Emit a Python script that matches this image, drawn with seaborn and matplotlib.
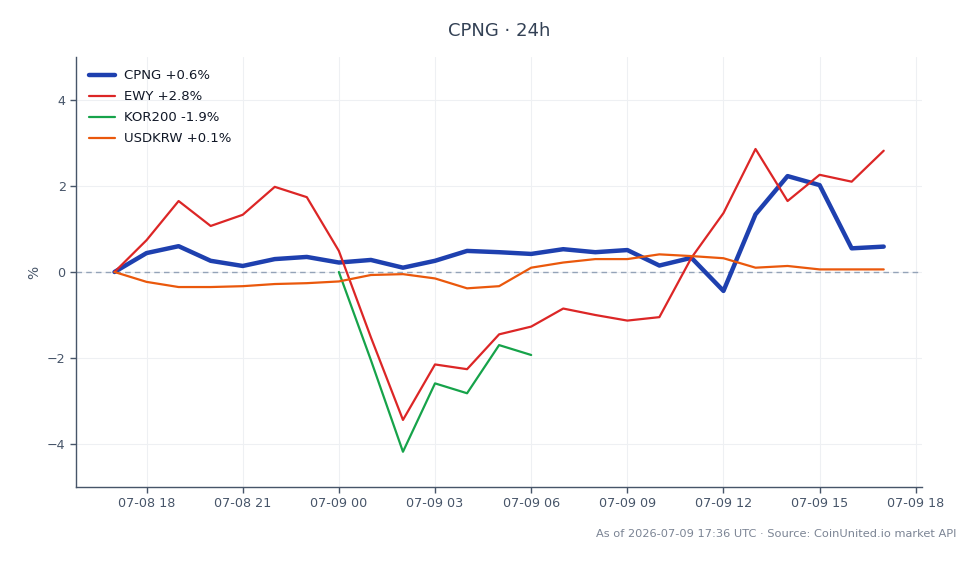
import numpy as np
import pandas as pd
import matplotlib
matplotlib.use("Agg")
import matplotlib.pyplot as plt
import matplotlib.dates as mdates
import seaborn as sns

times = pd.date_range("2026-07-08 17:00", "2026-07-09 17:00", freq="h")

cpng = [0.0, 0.44, 0.60, 0.26, 0.14, 0.30, 0.35, 0.22, 0.28, 0.10, 0.26, 0.49, 0.46,
        0.42, 0.53, 0.46, 0.51, 0.15, 0.33, -0.44, 1.34, 2.23, 2.02, 0.55, 0.59]
ewy = [0.0, 0.74, 1.65, 1.07, 1.33, 1.98, 1.74, 0.49, -1.52, -3.44, -2.15, -2.26, -1.45,
       -1.27, -0.85, -1.00, -1.13, -1.05, 0.33, 1.37, 2.86, 1.65, 2.26, 2.10, 2.82]
kor200 = [np.nan] * 7 + [0.0, -2.05, -4.18, -2.59, -2.82, -1.70, -1.93] + [np.nan] * 11
usdkrw = [0.0, -0.23, -0.35, -0.35, -0.33, -0.28, -0.26, -0.22, -0.07, -0.05, -0.15, -0.38, -0.33,
          0.10, 0.22, 0.30, 0.30, 0.41, 0.37, 0.32, 0.10, 0.14, 0.06, 0.06, 0.06]

labels = ["CPNG +0.6%", "EWY +2.8%", "KOR200 -1.9%", "USDKRW +0.1%"]
colors = ["#1e40af", "#dc2626", "#16a34a", "#ea580c"]
widths = [3.2, 1.6, 1.6, 1.6]
series = [cpng, ewy, kor200, usdkrw]

sns.set_theme(style="whitegrid")
plt.rcParams["font.family"] = ["DejaVu Sans"]

fig = plt.figure(figsize=(9.8, 5.64), dpi=100)
ax = fig.add_axes([0.0776, 0.1365, 0.8634, 0.7625])

for vals, lab, col, lw in zip(series, labels, colors, widths):
    df = pd.DataFrame({"time": times, "value": vals}).dropna()
    sns.lineplot(data=df, x="time", y="value", ax=ax, color=col, linewidth=lw, label=lab, zorder=3)

ax.axhline(0, color="#94a3b8", linestyle=(0, (4, 3)), linewidth=1.0, zorder=2)

ax.set_ylim(-5, 5)
ax.set_yticks([-4, -2, 0, 2, 4])
ax.xaxis.set_major_locator(mdates.HourLocator(byhour=[0, 3, 6, 9, 12, 15, 18, 21]))
ax.xaxis.set_major_formatter(mdates.DateFormatter("%m-%d %H"))
ax.margins(x=0.05)

ax.set_xlabel("")
ax.set_ylabel("%", color="#475569", fontsize=10)
ax.set_title("CPNG · 24h", color="#334155", fontsize=13, pad=15)

ax.set_facecolor("white")
ax.grid(True, color="#eef0f3", linewidth=0.8)
for s in ["top", "right"]:
    ax.spines[s].set_visible(False)
for s in ["left", "bottom"]:
    ax.spines[s].set_visible(True)
    ax.spines[s].set_color("#475569")
    ax.spines[s].set_linewidth(1.0)
ax.tick_params(axis="both", colors="#475569", labelsize=9.2, length=4, width=1, direction="out",
               left=True, bottom=True)

leg = ax.legend(loc="upper left", frameon=False, fontsize=9.5, handlelength=2.0,
                handletextpad=0.7, labelspacing=0.6, borderaxespad=0.55)
for t in leg.get_texts():
    t.set_color("#111827")

fig.text(0.976, 0.053, "As of 2026-07-09 17:36 UTC · Source: CoinUnited.io market API",
         ha="right", va="center", fontsize=8.2, color="#7b8494")

fig.savefig("out.png", dpi=100, facecolor="white")
